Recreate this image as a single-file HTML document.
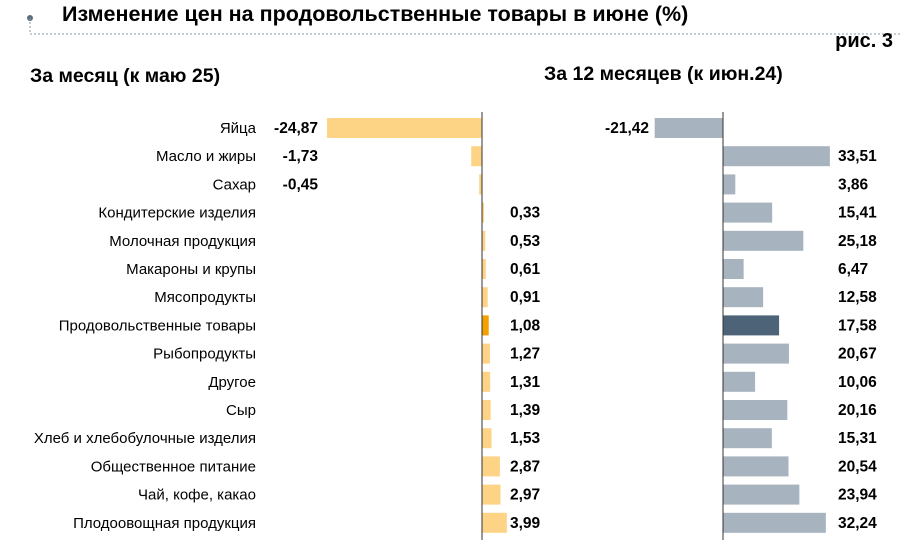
<!DOCTYPE html>
<html><head><meta charset="utf-8"><style>
body{margin:0;background:#fff;font-family:"Liberation Sans",Arial,sans-serif;}
#c{position:relative;width:910px;height:555px;overflow:hidden;}
</style></head><body>
<div id="c">
<svg id="s" width="910" height="555" style="font-family:'Liberation Sans',Arial,sans-serif">
<text x="62" y="21" font-size="21.5" font-weight="bold" fill="#000">Изменение цен на продовольственные товары в июне (%)</text>
<circle cx="30" cy="18" r="3" fill="#5a6f82"/>
<path d="M30 18 V34 H900" fill="none" stroke="#8a9aa8" stroke-dasharray="2,2"/>
<text x="893" y="47" font-size="20" font-weight="bold" text-anchor="end">рис. 3</text>
<text x="30" y="82" font-size="19.5" font-weight="bold">За месяц (к маю 25)</text>
<text x="544" y="80" font-size="19.5" font-weight="bold">За 12 месяцев (к июн.24)</text>
<g id="g"></g>
</svg></div>
<script>
const categories=["Яйца","Масло и жиры","Сахар","Кондитерские изделия","Молочная продукция","Макароны и крупы","Мясопродукты","Продовольственные товары","Рыбопродукты","Другое","Сыр","Хлеб и хлебобулочные изделия","Общественное питание","Чай, кофе, какао","Плодоовощная продукция"];
const monthValues=[-24.87,-1.73,-0.45,0.33,0.53,0.61,0.91,1.08,1.27,1.31,1.39,1.53,2.87,2.97,3.99];
const yearValues=[-21.42,33.51,3.86,15.41,25.18,6.47,12.58,17.58,20.67,10.06,20.16,15.31,20.54,23.94,32.24];
const highlight="Продовольственные товары";
const NS="http://www.w3.org/2000/svg",g=document.getElementById('g');
function el(t,a,txt){const e=document.createElementNS(NS,t);for(const k in a)e.setAttribute(k,a[k]);if(txt!==undefined)e.textContent=txt;g.appendChild(e);return e;}
const y=i=>128+i*28.2;
const xL=v=>482+v*6.23, xR=v=>723+v*3.19;
const fmt=v=>v.toFixed(2).replace('.',',');
categories.forEach((c,i)=>{
 const hl=c===highlight;
 let t=el('text',{x:256,y:y(i)+5,'font-size':15,'text-anchor':'end',fill:'#000'},c);
 
 let v=monthValues[i],x0=Math.min(xL(0),xL(v));
 let r=el('rect',{x:x0,y:y(i)-10,width:Math.max(Math.abs(xL(v)-xL(0)),1),height:20,fill:hl?'#F5A000':'#FDD385'});
 
 t=el('text',v<0?{x:318,y:y(i)+5,'text-anchor':'end'}:{x:510,y:y(i)+5},fmt(v));
 t.setAttribute('font-size',15.5);t.setAttribute('font-weight','bold');
 
 let w=yearValues[i];x0=Math.min(xR(0),xR(w));
 r=el('rect',{x:x0,y:y(i)-10,width:Math.abs(xR(w)-xR(0)),height:20,fill:hl?'#4D6478':'#A7B4BF'});
 
 t=el('text',w<0?{x:649,y:y(i)+5,'text-anchor':'end'}:{x:838,y:y(i)+5},fmt(w));
 t.setAttribute('font-size',15.5);t.setAttribute('font-weight','bold');
 
});
let a=el('line',{x1:xL(0),x2:xL(0),y1:112,y2:540,stroke:'#333','stroke-width':1});

a=el('line',{x1:xR(0),x2:xR(0),y1:112,y2:540,stroke:'#333','stroke-width':1});

</script></body></html>
